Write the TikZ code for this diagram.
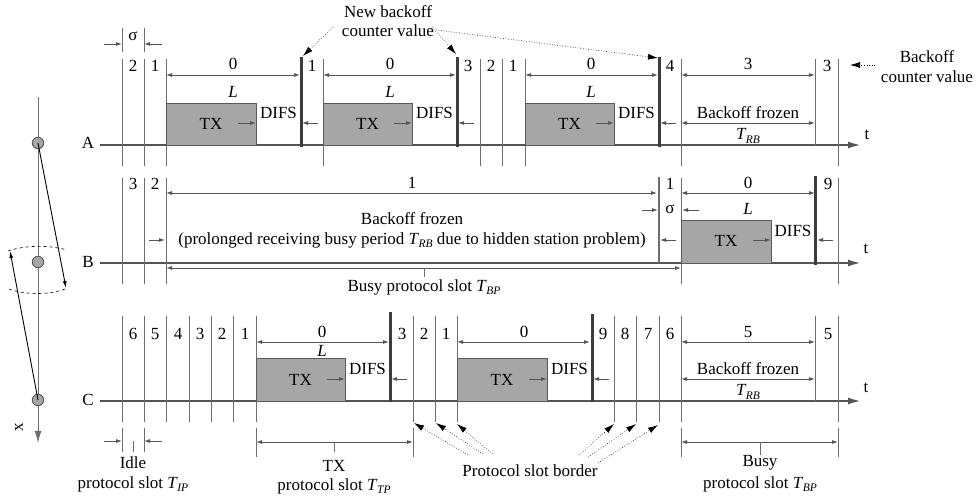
\documentclass[tikz,border=0pt]{standalone}
\usepackage{fontspec}
\setmainfont{Liberation Serif}
\usetikzlibrary{arrows.meta}
\definecolor{lg}{RGB}{110,110,110}
\definecolor{axc}{RGB}{85,85,85}
\definecolor{barc}{RGB}{60,60,60}
\definecolor{txf}{RGB}{166,166,166}
\definecolor{txd}{RGB}{90,90,90}
\newcommand{\Tsb}[1]{\textit{T}\kern-0.5pt\raisebox{-0.45ex}{\fontsize{11.5}{12}\selectfont\textit{#1}}}
\tikzset{
  vl/.style={draw=lg, line width=0.9pt},
  bar/.style={draw=barc, line width=3pt},
  medbar/.style={draw=lg, line width=1.6pt},
  ax/.style={draw=axc, line width=1.1pt, -{Latex[length=12pt,width=7pt]}},
  dimar/.style={draw=axc, line width=0.9pt, {Latex[length=6pt,width=4pt]}-{Latex[length=6pt,width=4pt]}},
  sar/.style={draw=axc, line width=0.9pt, -{Latex[length=6pt,width=4pt]}},
  txb/.style={fill=txf, draw=txd, line width=0.9pt},
  dotar/.style={draw=black, dotted, line width=0.6pt, -{Latex[length=10pt,width=6pt]}},
  lbl/.style={inner sep=0pt, anchor=center},
}
\begin{document}
\begin{tikzpicture}[x=1pt,y=-1pt, font=\fontsize{17}{20}\selectfont]
\useasboundingbox (0,0) rectangle (978,502);

% ---------- left space-axis figure ----------
\coordinate (xtop) at (38,97);
\coordinate (xbot) at (38,443);
\draw[draw=lg, line width=1pt, -{Latex[length=12pt,width=7pt]}] (xtop) -- (xbot);
\node[circle, fill=txf, draw=txd, line width=0.9pt, minimum size=11.5pt, inner sep=0pt] (sa) at (38,143) {};
\node[circle, fill=txf, draw=txd, line width=0.9pt, minimum size=11.5pt, inner sep=0pt] (sb) at (38,262) {};
\node[circle, fill=txf, draw=txd, line width=0.9pt, minimum size=11.5pt, inner sep=0pt] (sc) at (38,400) {};
\coordinate (bd) at (66,288);
\coordinate (bu) at (10,251);
\draw[line width=0.9pt, -{Latex[length=7pt,width=4pt]}] (sa.center) -- (bd);
\draw[line width=0.9pt, -{Latex[length=7pt,width=4pt]}] (sc.center) -- (bu);
\coordinate (a1) at (8,251); \coordinate (a2) at (67,250);
\coordinate (b1) at (9,289); \coordinate (b2) at (65,289);
\draw[dashed, line width=0.6pt] (a1) .. controls (25,245) and (50,245) .. (a2);
\draw[dashed, line width=0.6pt] (b1) .. controls (25,295) and (50,295) .. (b2);
\node[lbl, rotate=90] (xl) at (19,427) {x};

% ---------- row labels and time axes ----------
\node[lbl] (la) at (88,143) {A};
\node[lbl] (lb) at (88,262) {B};
\node[lbl] (lc) at (88,400) {C};
\coordinate (ea) at (860,145); \coordinate (eb) at (860,263); \coordinate (ec) at (860,401);
\coordinate (sa0) at (100,145); \coordinate (sb0) at (100,263); \coordinate (sc0) at (100,401);
\draw[ax] (sa0) -- (ea);
\draw[ax] (sb0) -- (eb);
\draw[ax] (sc0) -- (ec);
\node[lbl] (ta) at (867,135) {t};
\node[lbl] (tb) at (866,249) {t};
\node[lbl] (tc) at (866,388) {t};

% ================= ROW A =================
\foreach \x in {122,144,166,323,480,502,525,681,838} \draw[vl] (\x,59) -- (\x,166);
\draw[vl] (815,59) -- (815,145);
\foreach \x in {301,457,659} \draw[bar] (\x,57) -- (\x,147);
% sigma
\draw[vl] (122,28) -- (122,52);
\draw[vl] (144,28) -- (144,52);
\draw[sar] (104,44) -- (122,44);
\draw[sar] (162,44) -- (144,44);
\node[lbl] (sig1) at (133,36) {σ};
\foreach \x/\d [count=\i] in {133/2,155/1,312/1,468/3,491/2,513/1,670/4,827/3}
  \node[lbl] (da\i) at (\x,66) {\d};
\foreach \a/\b/\m/\d [count=\i] in {166/300/233/0,323/456/390/0,525/658/591/0,681/815/748/3} {
  \draw[dimar] (\a,75) -- (\b,75);
  \node[lbl] (ca\i) at (\m,64) {\d};
}
\foreach \m [count=\i] in {233,390,591} \node[lbl] (La\i) at (\m,92) {\textit{L}};
\foreach \a/\b/\c [count=\i] in {166/256/301,323/412/457,525/614/659} {
  \fill[txb] (\a,103) rectangle (\b,145);
  \node[lbl] (txa\i) at ({(\a+\b)/2},124) {TX};
  \draw[sar] (\b-18,123) -- (\b,123);
  \node[lbl] (dfa\i) at ({(\b+\c)/2},113) {DIFS};
  \draw[sar] (\c+17,123) -- (\c+1,123);
}
\node[lbl] (bfa) at (748,113) {Backoff frozen};
\draw[dimar] (681,123) -- (815,123);
\node[lbl] (tra) at (748,136) {\Tsb{RB}};

% New backoff counter value
\node[lbl] (nb1) at (388,12) {New backoff};
\node[lbl] (nb2) at (388,31) {counter value};
\coordinate (nt1) at (303,56); \coordinate (nt2) at (456,54); \coordinate (nt3) at (658,58);
\draw[dotar] (333,27) -- (nt1);
\draw[dotar] (432,27) -- (nt2);
\draw[dotar] (436,30) -- (nt3);
% Backoff counter value
\node[lbl] (bc1) at (927,57) {Backoff};
\node[lbl] (bc2) at (927,77) {counter value};
\coordinate (bct) at (850,65);
\draw[dotar] (875,65) -- (bct);

% ================= ROW B =================
\foreach \x in {122,144,166,681,838} \draw[vl] (\x,178) -- (\x,284);
\draw[medbar] (659,177) -- (659,263);
\draw[bar] (815,176) -- (815,265);
\foreach \x/\d [count=\i] in {133/3,155/2,670/1,828/9}
  \node[lbl] (db\i) at (\x,184) {\d};
\draw[dimar] (166,193) -- (657,193);
\node[lbl] (cb1) at (412,183) {1};
\draw[dimar] (681,193) -- (815,193);
\node[lbl] (cb2) at (748,183) {0};
\draw[sar] (642,210) -- (658,210);
\node[lbl] (sig2) at (670,209) {σ};
\draw[sar] (699,210) -- (682,210);
\node[lbl] (Lb) at (748,209) {\textit{L}};
\node[lbl] (bfb) at (412,219) {Backoff frozen};
\node[lbl] (prl) at (412,240) {(prolonged receiving busy period \Tsb{RB} due to hidden station problem)};
\draw[sar] (149,240) -- (165,240);
\draw[sar] (676,240) -- (660,240);
\fill[txb] (681,220) rectangle (771,263);
\node[lbl] (txb1) at (726,241) {TX};
\draw[sar] (753,240) -- (771,240);
\node[lbl] (dfb) at (793,231) {DIFS};
\draw[sar] (833,240) -- (817,240);
\draw[dimar] (166,268) -- (681,268);
\draw[vl] (424,268) -- (424,277);
\node[lbl] (bpb) at (424,287) {Busy protocol slot \Tsb{BP}};

% ================= ROW C =================
\foreach \x in {122,144,166,189,211,233,256,413,435,457,614,636,659,681,838} \draw[vl] (\x,316) -- (\x,422);
\draw[vl] (815,316) -- (815,401);
\draw[bar] (390,312) -- (390,402);
\draw[bar] (592,314) -- (592,402);
\foreach \x/\d [count=\i] in {133/6,155/5,178/4,200/3,222/2,245/1,402/3,424/2,446/1,603/9,625/8,648/7,670/6,828/5}
  \node[lbl] (dc\i) at (\x,334) {\d};
\foreach \a/\b/\m/\d [count=\i] in {256/389/322/0,457/590/524/0,681/815/748/5} {
  \draw[dimar] (\a,342) -- (\b,342);
  \node[lbl] (cc\i) at (\m,332) {\d};
}
\node[lbl] (Lc) at (322,351) {\textit{L}};
\foreach \a/\b/\c [count=\i] in {256/345/390,457/547/592} {
  \fill[txb] (\a,358) rectangle (\b,401);
  \node[lbl] (txc\i) at ({(\a+\b)/2},380) {TX};
  \draw[sar] (\b-18,379) -- (\b,379);
  \node[lbl] (dfc\i) at ({(\b+\c)/2},369) {DIFS};
  \draw[sar] (\c+17,379) -- (\c+1,379);
}
\node[lbl] (bfc) at (748,369) {Backoff frozen};
\draw[dimar] (681,379) -- (815,379);
\node[lbl] (trc) at (748,392) {\Tsb{RB}};

% slot brackets below C
\foreach \x in {122,144} \draw[vl] (\x,428) -- (\x,452);
\foreach \x in {256,413,681,838} \draw[vl] (\x,428) -- (\x,457);
\draw[sar] (104,441) -- (122,441);
\draw[sar] (162,441) -- (144,441);
\draw[vl] (133,441) -- (133,452);
\node[lbl] (idl1) at (133,463) {Idle};
\node[lbl] (idl2) at (133,484) {protocol slot \Tsb{IP}};
\draw[dimar] (256,442) -- (413,442);
\draw[vl] (334,442) -- (334,452);
\node[lbl] (tps1) at (334,466) {TX};
\node[lbl] (tps2) at (334,486) {protocol slot \Tsb{TP}};
\draw[dimar] (681,442) -- (838,442);
\draw[vl] (760,442) -- (760,455);
\node[lbl] (bps1) at (760,463) {Busy};
\node[lbl] (bps2) at (760,484) {protocol slot \Tsb{BP}};

% protocol slot border
\node[lbl] (psb) at (530,471) {Protocol slot border};
\coordinate (p1) at (414,423); \coordinate (p2) at (436,423); \coordinate (p3) at (457,424);
\coordinate (p4) at (614,424); \coordinate (p5) at (636,424); \coordinate (p6) at (658,425);
\draw[dotar] (468,455) -- (p1);
\draw[dotar] (483,454) -- (p2);
\draw[dotar] (493,454) -- (p3);
\draw[dotar] (579,455) -- (p4);
\draw[dotar] (588,457) -- (p5);
\draw[dotar] (598,463) -- (p6);
\end{tikzpicture}
\end{document}
